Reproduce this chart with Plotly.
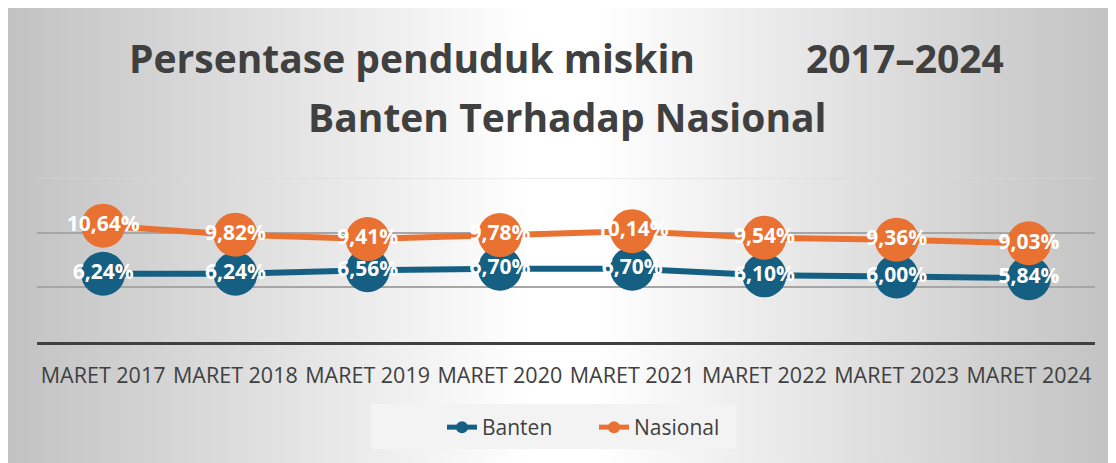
import plotly.graph_objects as go

categories = ["MARET 2017", "MARET 2018", "MARET 2019", "MARET 2020",
              "MARET 2021", "MARET 2022", "MARET 2023", "MARET 2024"]
banten = [6.24, 6.24, 6.56, 6.70, 6.70, 6.10, 6.00, 5.84]
nasional = [10.64, 9.82, 9.41, 9.78, 10.14, 9.54, 9.36, 9.03]

OFF = 8  # page body margin
W, H = 1116 - OFF, 463 - OFF
ML, MR = 37 - OFF, 21
MT, MB = 178 - OFF, H - (342 - OFF)
PW, PH = W - ML - MR, H - MT - MB

def px_x(px):
    return (px - OFF - ML) / PW

def px_y(py):
    return (H - MB - (py - OFF)) / PH

def fmt(v):
    return f"{v:.2f}".replace(".", ",") + "%"

BLUE = "#156082"
ORANGE = "#E97132"
TXT = "#404040"
FONT = "Open Sans"

bg_svg = (
    "data:image/svg+xml;utf8,"
    "<svg xmlns='http://www.w3.org/2000/svg' width='1108' height='455' preserveAspectRatio='none'>"
    "<defs><linearGradient id='g' x1='0' y1='0' x2='1' y2='0'>"
    "<stop offset='0' stop-color='%23c2c2c2'/>"
    "<stop offset='0.47' stop-color='%23ffffff'/>"
    "<stop offset='0.53' stop-color='%23ffffff'/>"
    "<stop offset='1' stop-color='%23c2c2c2'/>"
    "</linearGradient></defs>"
    "<rect width='1108' height='455' fill='url(%23g)'/></svg>"
)

fig = go.Figure()
for name, vals, col in [("Banten", banten, BLUE), ("Nasional", nasional, ORANGE)]:
    fig.add_trace(go.Scatter(
        x=categories, y=vals, name=name,
        mode="lines+markers+text",
        line=dict(color=col, width=6),
        marker=dict(color=col, size=44),
        text=[fmt(v) for v in vals],
        textposition="middle center",
        textfont=dict(family=FONT, size=21, color="white", weight="bold"),
        hoverinfo="skip",
    ))

fig.add_layout_image(dict(
    source=bg_svg, xref="paper", yref="paper",
    x=px_x(OFF), y=px_y(OFF), sizex=W / PW, sizey=H / PH,
    xanchor="left", yanchor="top", sizing="stretch", layer="below",
))

fig.add_shape(type="line", xref="paper", yref="y", x0=0, x1=1, y0=15, y1=15,
              line=dict(color="#d9d9d9", width=1), layer="below")
# legend box
fig.add_shape(type="rect", xref="paper", yref="paper",
              x0=px_x(371), x1=px_x(736), y0=px_y(404), y1=px_y(449),
              fillcolor="#f3f3f3", line=dict(width=0), layer="below")

annos = [
    dict(text="Persentase penduduk miskin", x=px_x(127), y=px_y(57), xanchor="left"),
    dict(text="2017–2024", x=px_x(1006), y=px_y(57), xanchor="right"),
    dict(text="Banten Terhadap Nasional", x=px_x(567), y=px_y(116), xanchor="center"),
]
for a in annos:
    fig.add_annotation(xref="paper", yref="paper", yanchor="middle", showarrow=False,
                       font=dict(family=FONT, size=39, color=TXT, weight="bold"), **a)

fig.update_layout(
    width=W, height=H,
    margin=dict(l=ML, r=MR, t=MT, b=MB, pad=0),
    paper_bgcolor="white", plot_bgcolor="rgba(0,0,0,0)",
    showlegend=True,
    legend=dict(orientation="h", x=px_x(442), xanchor="left", yref="container",
                y=1 - (407 - OFF) / H, yanchor="top", bgcolor="rgba(0,0,0,0)",
                font=dict(family=FONT, size=21, color=TXT),
                itemsizing="constant", traceorder="normal", entrywidth=107),
    font=dict(family=FONT, color=TXT),
)
fig.update_xaxes(range=[-0.5, 7.5], showgrid=False, showline=True, linecolor=TXT, linewidth=3,
                 ticks="outside", ticklen=12, tickcolor="rgba(0,0,0,0)",
                 tickfont=dict(family=FONT, size=21.5, color=TXT), fixedrange=True)
fig.update_yaxes(range=[0, 15], tickvals=[0, 5, 10], showticklabels=False,
                 showgrid=True, gridcolor="#a6a6a6", gridwidth=1.5,
                 zeroline=False, showline=False, fixedrange=True)

fig.write_html("out.html")
